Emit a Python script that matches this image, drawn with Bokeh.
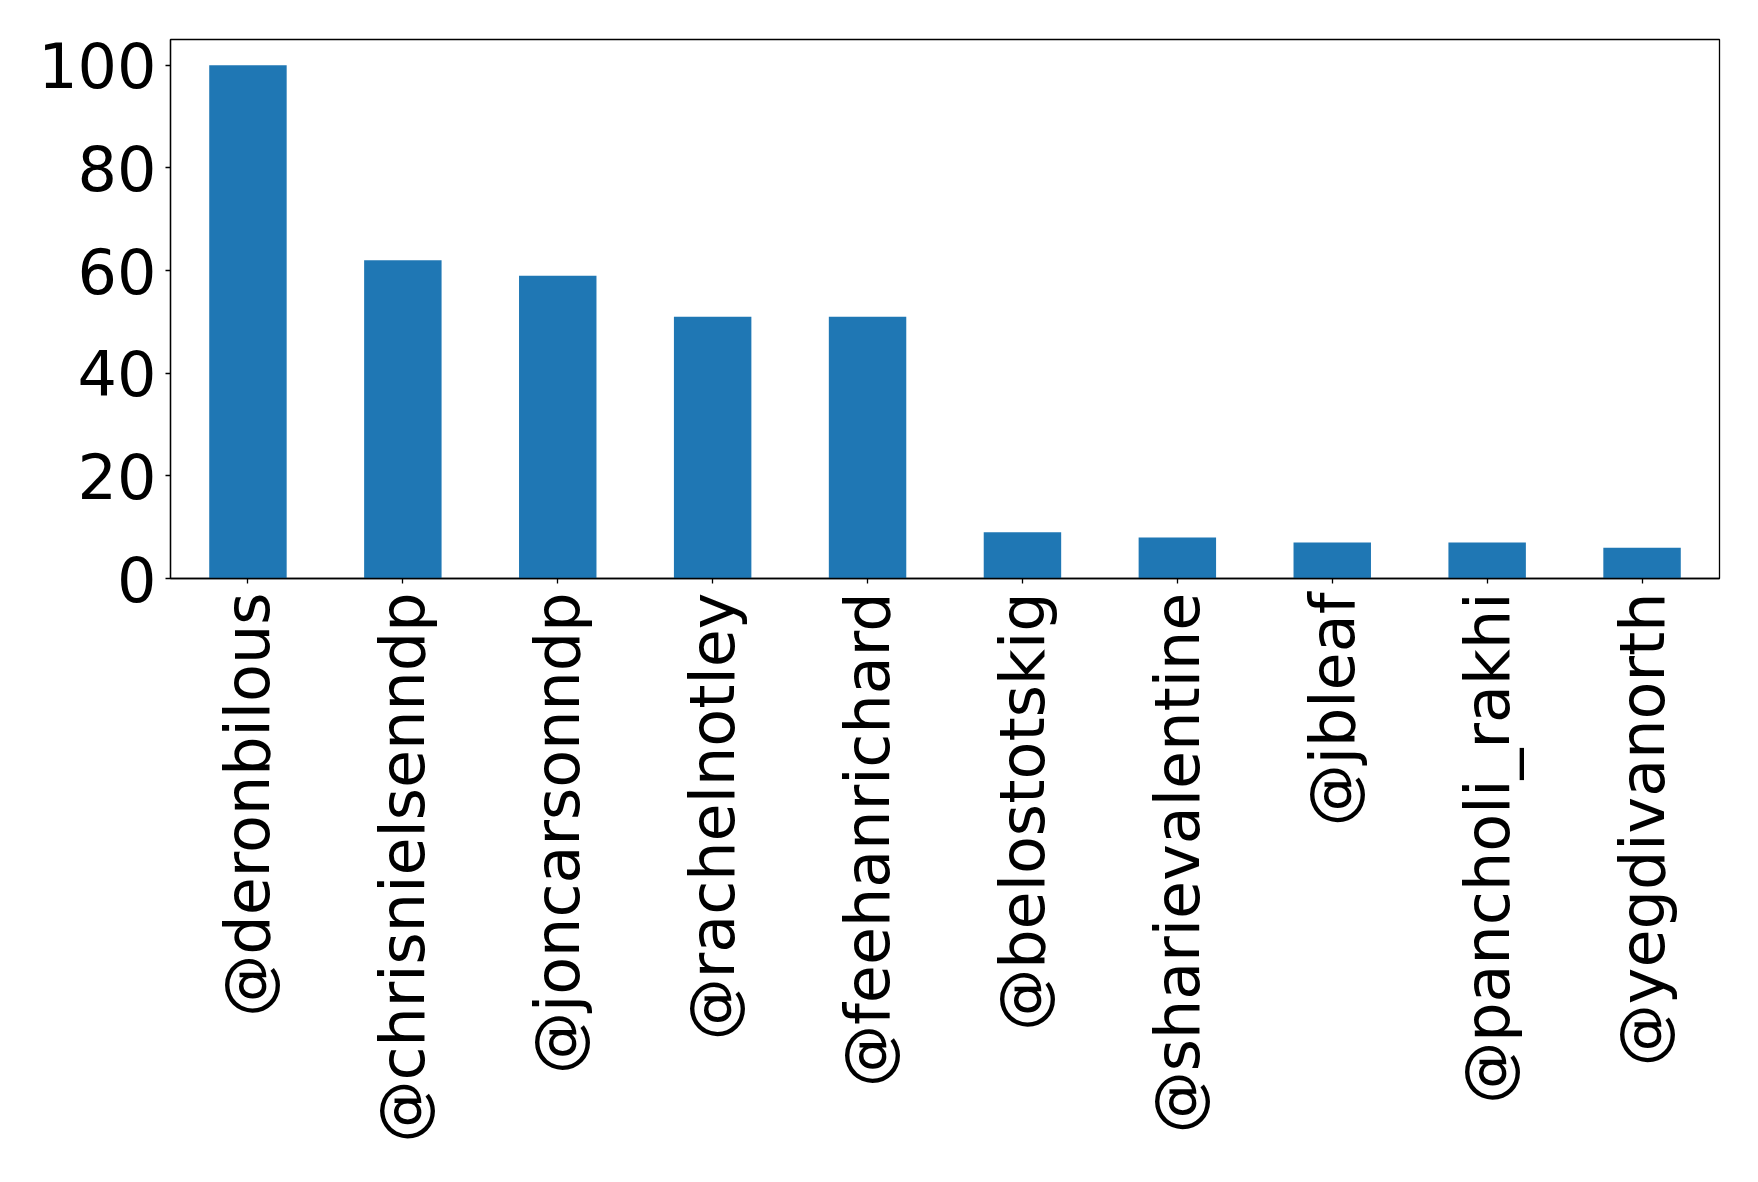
import math
from bokeh.plotting import figure
from bokeh.models import ColumnDataSource, Range1d, FactorRange
from bokeh.embed import file_html
from bokeh.resources import INLINE

handles = ["@deronbilous", "@chrisnielsenndp", "@joncarsonndp", "@rachelnotley",
           "@feehanrichard", "@belostotskig", "@sharievalentine", "@jbleaf",
           "@pancholi_rakhi", "@yegdivanorth"]
counts = [100, 62, 59, 51, 51, 9, 8, 7, 7, 6]
y_ticks = [0, 20, 40, 60, 80, 100]

source = ColumnDataSource(data=dict(handle=handles, count=counts))

p = figure(width=1742, height=1166, output_backend="svg", toolbar_location=None,
           x_range=FactorRange(factors=handles, range_padding=0),
           y_range=Range1d(0, 105),
           min_border_left=170, min_border_right=23, min_border_top=39, min_border_bottom=588)

p.vbar(x="handle", top="count", width=0.5, source=source,
       fill_color="#1f77b4", line_color=None)

p.xgrid.grid_line_color = None
p.ygrid.grid_line_color = None
p.outline_line_color = "black"
p.outline_line_width = 1.3
p.outline_line_alpha = 1
p.background_fill_color = "white"
p.border_fill_color = "white"

for ax in (p.xaxis[0], p.yaxis[0]):
    ax.major_label_text_font = "DejaVu Sans"
    ax.major_label_text_font_size = "62px"
    ax.major_label_text_color = "black"
    ax.axis_line_color = "black"
    ax.axis_line_width = 1.3
    ax.major_tick_line_color = "black"
    ax.major_tick_line_width = 1.3
    ax.major_tick_in = 0
    ax.major_tick_out = 5
    ax.minor_tick_line_color = None

p.yaxis[0].ticker = y_ticks
p.yaxis[0].major_label_standoff = 9
p.xaxis[0].major_label_orientation = math.pi / 2
p.xaxis[0].major_label_standoff = 9

open("out.html", "w").write(file_html(p, INLINE))
